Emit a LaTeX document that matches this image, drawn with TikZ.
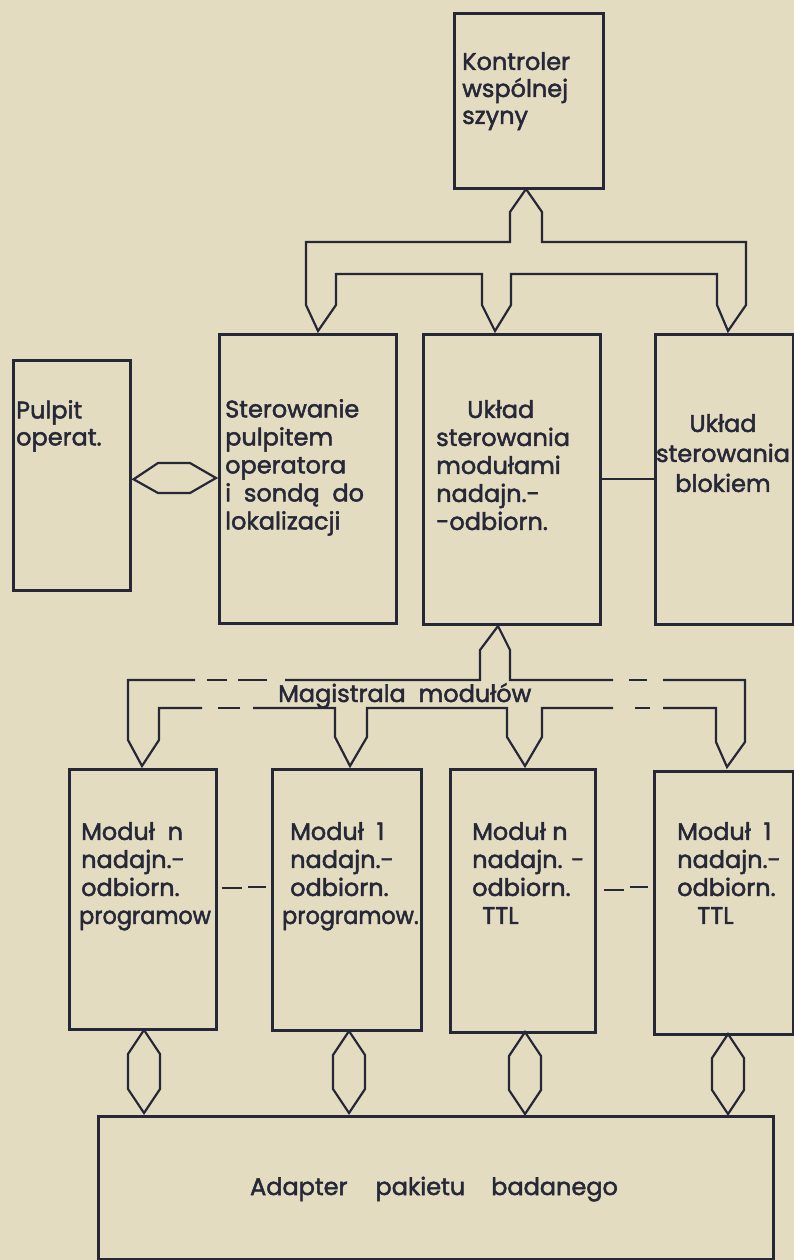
\documentclass[tikz,border=0pt]{standalone}
\usepackage{fontspec}
\setmainfont{Poppins}[FakeBold=2]
\definecolor{paper}{RGB}{228,220,192}
\definecolor{ink}{RGB}{38,40,56}
\newcommand\vhex[3]{\draw[conn] (#1,#2) -- (#1-16,#2+24) -- (#1-16,#3-24) -- (#1,#3) -- (#1+16,#3-24) -- (#1+16,#2+24) -- cycle;}
\newcommand\narrow[1]{{\addfontfeature{FakeStretch=0.93}#1}}
\begin{document}
\begin{tikzpicture}[x=1pt,y=-1pt,
  box/.style={draw=ink, line width=2.6pt, inner sep=0pt, anchor=north west},
  conn/.style={draw=ink, line width=2.2pt, line join=miter},
  lbl/.style={text=ink, font=\fontsize{24}{28}\selectfont, inner sep=0pt, align=left, anchor=north west}]
\fill[paper] (0,0) rectangle (794,1260);
\useasboundingbox (0,0) rectangle (794,1260);
% boxes
\node[box, minimum width=149pt, minimum height=175pt] (kon) at (453,12) {};
\node[box, minimum width=117pt, minimum height=230pt] (pul) at (12,359) {};
\node[box, minimum width=177pt, minimum height=289pt] (ster) at (218,333) {};
\node[box, minimum width=177pt, minimum height=290pt] (ukl) at (422,333) {};
\node[box, minimum width=138pt, minimum height=290pt] (blk) at (654,333) {};
\node[box, minimum width=147pt, minimum height=260pt] (m1) at (68,768) {};
\node[box, minimum width=149pt, minimum height=261pt] (m2) at (271,768) {};
\node[box, minimum width=145pt, minimum height=263pt] (m3) at (449,768) {};
\node[box, minimum width=139pt, minimum height=263pt] (m4) at (653,770) {};
\node[box, minimum width=675pt, minimum height=143pt] (ad) at (97,1115) {};
% texts
\node[lbl, font=\fontsize{24}{27}\selectfont] (tkon) at (462,52) {Kontroler\\wspólnej\\szyny};
\node[lbl, font=\fontsize{24}{27}\selectfont] (tpul) at (16,400) {Pulpit\\operat.};
\node[lbl] (tster) at (225,399) {Sterowanie\\pulpitem\\operatora\\i \ sondą \ do\\lokalizacji};
\node[lbl] (tukl) at (436,400) {\hspace*{31pt}Układ\\sterowania\\modułami\\nadajn.-\\-odbiorn.};
\node[lbl, align=center, anchor=north, font=\fontsize{24}{30}\selectfont] (tblk) at (723,414) {Układ\\sterowania\\blokiem};
\node[lbl] (tm1) at (81,822) {Moduł \ n\\nadajn.-\\odbiorn.\\\hspace*{-2pt}\narrow{programow}};
\node[lbl] (tm2) at (290,822) {Moduł \ 1\\nadajn.-\\odbiorn.\\\hspace*{-8pt}\narrow{programow.}};
\node[lbl] (tm3) at (472,822) {Moduł n\\nadajn. -\\odbiorn.\\\hspace*{10pt}TTL};
\node[lbl] (tm4) at (677,822) {Moduł \ 1\\nadajn.-\\odbiorn.\\\hspace*{20pt}TTL};
\node[lbl, anchor=base west] (tmag) at (278,702) {Magistrala \ modułów};
\node[lbl, anchor=base] (tad) at (434,1195) {Adapter\hspace{28pt}pakietu\hspace{26pt}badanego};
% top bus
\draw[conn] (526,189) -- (510,212) -- (510,242) -- (306,242) -- (306,305) -- (318,331)
  -- (336,305) -- (336,274) -- (482,274) -- (482,305) -- (495,331) -- (511,305) -- (511,274)
  -- (717,274) -- (717,305) -- (728,331) -- (746,305) -- (746,242) -- (542,242) -- (542,212) -- cycle;
% pulpit link
\draw[conn] (pul.east) ++(2,4) -- (158,463) -- (190,463) -- (216,478) -- (190,493) -- (158,493) -- cycle;
% uklad - blok link
\draw[conn] (ukl.east) -- (blk.west);
% module bus
\draw[conn] (195,680) -- (128,680) -- (128,740) -- (142,766) -- (159,740) -- (159,708) -- (202,708);
\draw[conn] (207,680) -- (227,680);
\draw[conn] (238,680) -- (267,680);
\draw[conn] (218,708) -- (240,708);
\draw[conn] (285,680) -- (480,680) -- (480,650) -- (498,626) -- (510,650) -- (510,680) -- (613,680);
\draw[conn] (253,708) -- (335,708) -- (335,737) -- (350,766) -- (367,737) -- (367,708) -- (507,708)
  -- (507,737) -- (525,766) -- (542,737) -- (542,708) -- (613,708);
\draw[conn] (629,680) -- (647,680);
\draw[conn] (635,708) -- (650,708);
\draw[conn] (663,680) -- (745,680) -- (745,742) -- (727,767) -- (716,742) -- (716,708) -- (663,708);
% module dashed links
\draw[conn] ([yshift=11pt]m1.east) ++(4,0) -- ++(20,0);
\draw[conn] (248,887) -- (266,887);
\draw[conn] ([yshift=11pt]m3.east) ++(7,0) -- ++(20,0);
\draw[conn] (630,887) -- (648,887);
% hexagons to adapter
\vhex{144}{1030}{1113}
\vhex{349}{1031}{1113}
\vhex{525}{1032}{1114}
\vhex{728}{1034}{1114}
\end{tikzpicture}
\end{document}
